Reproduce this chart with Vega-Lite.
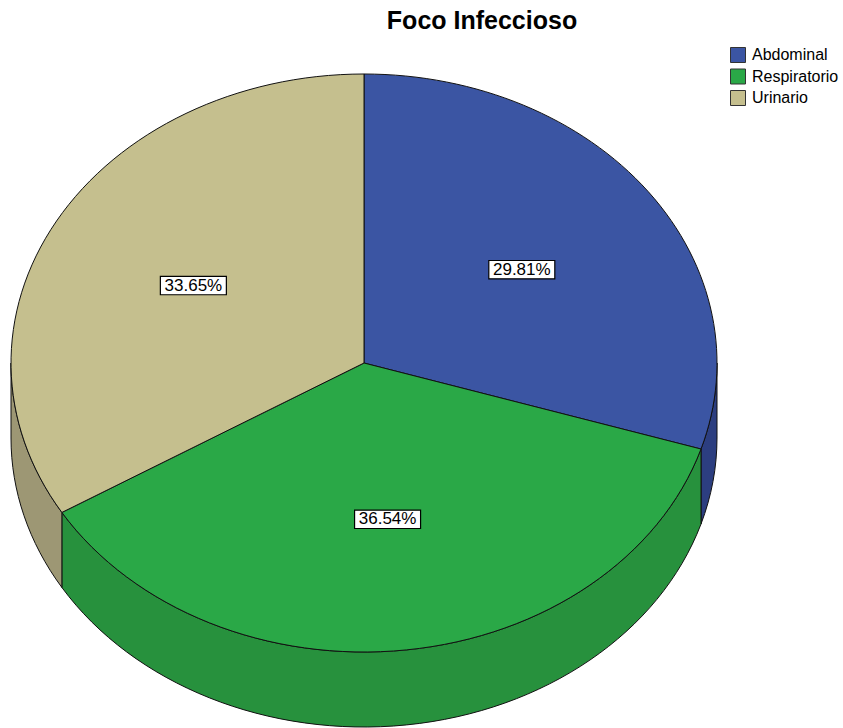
{
  "$schema": "https://vega.github.io/schema/vega-lite/v6.json",
  "width": 706,
  "height": 706,
  "autosize": {"type": "none"},
  "padding": {"left": 11, "top": 10, "right": 126, "bottom": 12},
  "background": "white",
  "title": {
    "text": "Foco Infeccioso",
    "font": "Liberation Sans",
    "fontSize": 25,
    "fontWeight": "bold",
    "color": "#000000",
    "anchor": "middle",
    "dx": 118,
    "baseline": "middle",
    "offset": -36
  },
  "data": {
    "values": [
      {"foco": "Abdominal", "pct": 29.81},
      {"foco": "Respiratorio", "pct": 36.54},
      {"foco": "Urinario", "pct": 33.65}
    ]
  },
  "transform": [
    {"joinaggregate": [{"op": "sum", "field": "pct", "as": "total"}]},
    {"window": [{"op": "sum", "field": "pct", "as": "cum"}], "sort": [{"field": "foco"}], "frame": [null, 0]},
    {"calculate": "-PI/2 + 2*PI*(datum.cum - datum.pct)/datum.total", "as": "a0"},
    {"calculate": "-PI/2 + 2*PI*datum.cum/datum.total", "as": "a1"},
    {"calculate": "max(datum.a0, 0)", "as": "b0"},
    {"calculate": "min(datum.a1, PI)", "as": "b1"},
    {"calculate": "datum.foco", "as": "lado"},
    {"calculate": "'M0,0L' + round(cos(datum.a0)*1e5)/1e5 + ',' + round(0.8187*sin(datum.a0)*1e5)/1e5 + 'A1,0.8187,0,' + (datum.a1 - datum.a0 > PI ? 1 : 0) + ',1,' + round(cos(datum.a1)*1e5)/1e5 + ',' + round(0.8187*sin(datum.a1)*1e5)/1e5 + 'Z'", "as": "topPath"},
    {"calculate": "'M' + round(cos(datum.b0)*1e5)/1e5 + ',' + round(0.8187*sin(datum.b0)*1e5)/1e5 + 'A1,0.8187,0,0,1,' + round(cos(datum.b1)*1e5)/1e5 + ',' + round(0.8187*sin(datum.b1)*1e5)/1e5 + 'L' + round(cos(datum.b1)*1e5)/1e5 + ',' + round((0.8187*sin(datum.b1) + 0.2125)*1e5)/1e5 + 'A1,0.8187,0,0,0,' + round(cos(datum.b0)*1e5)/1e5 + ',' + round((0.8187*sin(datum.b0) + 0.2125)*1e5)/1e5 + 'Z'", "as": "sidePath"},
    {"calculate": "0.555*cos((datum.a0 + datum.a1)/2)", "as": "lx"},
    {"calculate": "0.545*0.8187*sin((datum.a0 + datum.a1)/2)", "as": "ly"},
    {"calculate": "format(datum.pct, '.2f') + '%'", "as": "lbl"}
  ],
  "layer": [
    {
      "transform": [{"filter": "datum.b1 > datum.b0"}],
      "mark": {"type": "point", "filled": true, "opacity": 1, "size": 498436, "stroke": "#111111", "strokeWidth": 1},
      "encoding": {
        "shape": {"field": "sidePath", "type": "nominal", "scale": null},
        "fill": {
          "field": "lado",
          "type": "nominal",
          "scale": {"range": ["#2c3e80", "#27913d", "#9d9774"]},
          "legend": null
        }
      }
    },
    {
      "mark": {"type": "point", "filled": true, "opacity": 1, "size": 498436, "stroke": "#111111", "strokeWidth": 1},
      "encoding": {
        "shape": {"field": "topPath", "type": "nominal", "scale": null},
        "color": {
          "field": "foco",
          "type": "nominal",
          "title": null,
          "scale": {"domain": ["Abdominal", "Respiratorio", "Urinario"], "range": ["#3b55a3", "#2aa847", "#c5bf8e"]},
          "legend": {
            "orient": "none",
            "legendX": 719,
            "legendY": 37,
            "padding": 0,
            "symbolType": "square",
            "symbolSize": 225,
            "symbolStrokeColor": "#333333",
            "symbolStrokeWidth": 1,
            "symbolOpacity": 1,
            "labelFont": "Liberation Sans",
            "labelFontSize": 16,
            "labelColor": "#000000",
            "labelOffset": 6,
            "rowPadding": 1.5
          }
        }
      }
    },
    {
      "mark": {"type": "point", "filled": true, "opacity": 1, "fill": "white", "stroke": "#000000", "strokeWidth": 1.2, "size": 4356, "shape": "M-1,-0.277L1,-0.277L1,0.277L-1,0.277Z"},
      "encoding": {
        "x": {"field": "lx", "type": "quantitative", "scale": {"domain": [-1, 1], "nice": false, "zero": false}, "axis": null},
        "y": {"field": "ly", "type": "quantitative", "scale": {"domain": [-1, 1], "nice": false, "zero": false, "reverse": true}, "axis": null}
      }
    },
    {
      "mark": {"type": "text", "font": "Liberation Sans", "fontSize": 17, "color": "#000000", "align": "center", "baseline": "middle"},
      "encoding": {
        "x": {"field": "lx", "type": "quantitative"},
        "y": {"field": "ly", "type": "quantitative"},
        "text": {"field": "lbl"}
      }
    }
  ],
  "config": {"view": {"stroke": null}}
}
